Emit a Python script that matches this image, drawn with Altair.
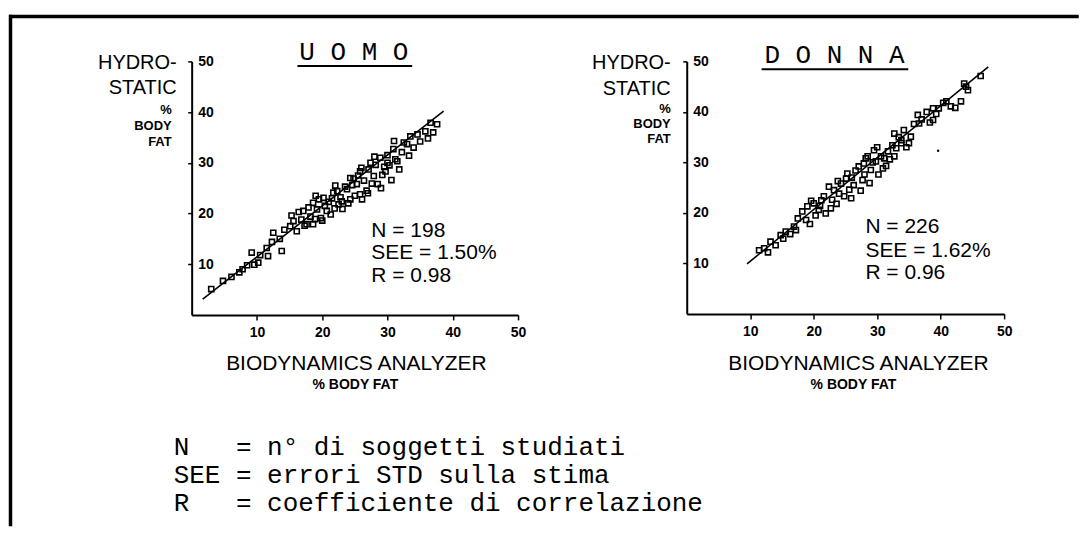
import altair as alt
import pandas as pd

SANS = "Liberation Sans"
MONO = "Liberation Mono"

# ---------------- data ----------------
ticks = [10, 20, 30, 40, 50]

men_x = [3.0, 4.8, 6.1, 7.3, 7.8, 8.5, 9.2, 9.6, 10.2, 10.5, 11.5, 11.7, 12.3, 12.5, 13.5,
         13.8, 14.2, 15.1, 15.3, 15.6, 16.1, 16.4, 16.8, 17.1, 17.3, 17.6, 17.9, 18.2, 18.6,
         18.6, 18.9, 19.0, 19.2, 19.5, 19.8, 20.0, 20.2, 20.4, 20.7, 21.0, 21.3, 21.5, 21.7,
         21.9, 22.0, 22.3, 22.5, 22.8, 23.0, 23.1, 23.5, 23.8, 24.0, 24.3, 24.3, 24.6, 24.8,
         25.0, 25.3, 25.5, 25.8, 25.8, 26.0, 26.1, 26.4, 26.8, 27.0, 27.1, 27.4, 27.6, 27.9,
         28.0, 28.2, 28.5, 28.9, 29.0, 29.2, 29.5, 29.7, 30.0, 30.0, 30.3, 30.6, 30.9, 31.0,
         31.2, 31.5, 31.8, 32.2, 32.5, 33.0, 33.3, 33.5, 34.0, 34.6, 35.0, 35.8, 36.2, 36.6,
         37.0, 37.6]
men_y = [5.1, 6.7, 7.5, 8.4, 9.0, 9.8, 12.3, 9.9, 10.3, 11.8, 13.2, 11.6, 14.4, 16.2, 15.0,
         12.6, 16.8, 17.5, 19.6, 18.5, 16.5, 20.3, 18.8, 20.5, 17.6, 17.9, 21.2, 19.4, 22.1,
         17.9, 18.9, 23.5, 20.8, 22.8, 19.1, 18.6, 23.1, 21.5, 20.5, 22.3, 19.8, 23.0, 24.1,
         21.0, 25.5, 24.4, 21.8, 23.2, 22.4, 20.9, 25.3, 24.8, 22.0, 22.8, 27.0, 25.6, 26.9,
         23.5, 25.8, 27.5, 23.8, 28.3, 29.0, 22.8, 26.5, 24.5, 24.0, 28.7, 30.0, 25.9, 27.4,
         31.2, 29.6, 25.8, 31.0, 25.0, 27.6, 29.2, 28.3, 31.5, 30.0, 29.5, 26.6, 32.7, 34.3,
         30.7, 30.3, 28.7, 32.1, 34.0, 33.7, 31.4, 35.2, 33.0, 35.6, 34.2, 36.2, 34.8, 37.9,
         36.0, 37.6]
men_fit_x = [1.7, 38.6]
men_fit_y = [3.1, 40.2]

women_x = [11.4, 12.2, 12.8, 13.2, 14.0, 14.8, 15.2, 15.6, 16.3, 16.9, 17.2, 17.5, 18.2, 18.8,
           19.0, 19.4, 19.6, 20.0, 20.3, 20.8, 21.0, 21.2, 21.6, 21.9, 22.4, 22.7, 22.9, 23.2,
           23.6, 23.8, 24.0, 24.3, 24.8, 25.1, 25.3, 25.6, 25.9, 26.0, 26.3, 26.6, 27.1, 27.4,
           27.7, 27.9, 28.0, 28.2, 28.5, 28.8, 29.0, 29.3, 29.5, 29.8, 30.0, 30.2, 30.6, 30.9,
           31.1, 31.4, 31.7, 32.0, 32.4, 32.7, 32.7, 33.0, 33.4, 33.8, 33.8, 34.2, 34.6, 35.0,
           35.3, 35.8, 36.4, 36.6, 37.0, 37.8, 38.3, 38.8, 38.8, 39.3, 39.7, 40.4, 40.9, 41.6,
           42.3, 43.2, 43.7, 44.0, 44.3, 46.3]
women_y = [12.6, 13.0, 12.2, 14.3, 13.6, 15.6, 14.9, 16.3, 15.8, 17.3, 16.6, 18.9, 20.3, 18.6,
           21.3, 17.8, 22.4, 21.9, 19.5, 20.6, 21.4, 22.5, 23.3, 19.9, 25.2, 20.9, 22.6, 24.5,
           21.8, 26.3, 23.8, 25.8, 23.3, 26.8, 27.8, 24.6, 22.9, 27.0, 25.5, 28.4, 29.2, 24.4,
           26.5, 29.8, 27.6, 30.8, 31.2, 25.9, 28.5, 30.0, 32.4, 30.2, 33.0, 27.6, 31.2, 28.8,
           30.8, 29.3, 32.2, 30.6, 33.4, 35.7, 31.2, 32.8, 35.0, 34.4, 33.8, 36.4, 33.0, 33.8,
           35.1, 37.6, 39.4, 37.7, 38.5, 40.0, 37.9, 40.7, 38.4, 39.6, 40.7, 41.8, 42.1, 41.1,
           40.8, 42.1, 45.6, 45.0, 44.3, 47.1]
women_fit_x = [9.5, 47.5]
women_fit_y = [9.9, 48.9]
women_speck_x = [39.6]
women_speck_y = [32.3]

men_title = "U O M O"
women_title = "D O N N A"
men_stats = ["N = 198", "SEE = 1.50%", "R = 0.98"]
women_stats = ["N = 226", "SEE = 1.62%", "R = 0.96"]
y_title_big = ["HYDRO-", "STATIC"]
y_title_small = ["%", "BODY", "FAT"]
x_title_big = "BIODYNAMICS ANALYZER"
x_title_small = "% BODY FAT"
legend_lines = ["N   = n° di soggetti studiati",
                "SEE = errori STD sulla stima",
                "R   = coefficiente di correlazione"]

one = pd.DataFrame({"_": [0]})


def txt(s, x, y, size, font=SANS, align="left", weight="normal"):
    return alt.Chart(one).mark_text(
        text=s, align=align, baseline="middle", font=font, fontSize=size,
        fontWeight=weight, color="black"
    ).encode(x=alt.value(x), y=alt.value(y))


def hrule(x1, x2, y, w):
    return alt.Chart(one).mark_rule(color="black", strokeWidth=w, strokeCap="square").encode(
        x=alt.value(x1), x2=alt.value(x2), y=alt.value(y))


def vrule(x, y1, y2, w):
    return alt.Chart(one).mark_rule(color="black", strokeWidth=w, strokeCap="square").encode(
        x=alt.value(x), y=alt.value(y1), y2=alt.value(y2))


def panel(px, py, fx, fy, width, height, title, tpos, upos, ytx, stats, spos, xtpos, extra=None):
    xs = alt.Scale(domain=[0, 50], nice=False)
    ys = alt.Scale(domain=[0, 50], nice=False)
    xax = alt.Axis(values=ticks, title=None, grid=False, tickSize=5, labelPadding=6,
                   labelFlush=False, labelOverlap=False, domainWidth=2, domainColor="black",
                   tickWidth=1.5, tickColor="black", labelFont=SANS, labelFontSize=14,
                   labelFontWeight="bold", labelColor="black")
    yax = alt.Axis(values=ticks, title=None, grid=False, tickSize=4, labelAlign="left",
                   labelPadding=-10, labelBaseline="middle", labelFlush=False,
                   labelOverlap=False, domainWidth=2, domainColor="black", tickWidth=1.5,
                   tickColor="black", labelFont=SANS, labelFontSize=14,
                   labelFontWeight="bold", labelColor="black")
    pts = alt.Chart(pd.DataFrame({"x": px, "y": py})).mark_point(
        shape="square", filled=False, size=26, strokeWidth=1.6, color="black", opacity=1
    ).encode(x=alt.X("x:Q", scale=xs, axis=xax), y=alt.Y("y:Q", scale=ys, axis=yax))
    fit = alt.Chart(pd.DataFrame({"x": fx, "y": fy})).mark_line(
        color="black", strokeWidth=1.6
    ).encode(x="x:Q", y="y:Q")
    layers = [pts, fit]
    if extra is not None:
        layers.append(extra)
    layers.append(txt(title, tpos[0], tpos[1], 26, font=MONO, align="center"))
    layers.append(hrule(upos[0], upos[1], upos[2], 2))
    bx, sx, ys_big, ys_small = ytx
    for s, yy in zip(y_title_big, ys_big):
        layers.append(txt(s, bx, yy, 20, align="right"))
    for s, yy in zip(y_title_small, ys_small):
        layers.append(txt(s, sx, yy, 13, align="right", weight="bold"))
    for s, yy in zip(stats, spos[1]):
        layers.append(txt(s, spos[0], yy, 21))
    layers.append(txt(x_title_big, xtpos[0], xtpos[1], 21, align="center"))
    layers.append(txt(x_title_small, xtpos[2], xtpos[3], 14, align="center", weight="bold"))
    return layers, width, height


left_layers, lw, lh = panel(
    men_x, men_y, men_fit_x, men_fit_y, 327, 254,
    men_title, (162.5, -9), (107, 220, 4.5),
    (-15, -20, [2, 27], [49, 65, 81]),
    men_stats, (180, [170, 192, 215]),
    (165, 303, 164, 324))

# frame and legend (annotation, in pixels relative to the left plot)
left_layers.append(hrule(-181, 887, -45, 3.5))
left_layers.append(vrule(-181.5, -45, 464, 3.5))
for s, yy in zip(legend_lines, [386, 414, 442]):
    left_layers.append(txt(s.replace(" ", "\u00a0"), -18, yy, 26, font=MONO))

speck = alt.Chart(pd.DataFrame({"x": women_speck_x, "y": women_speck_y})).mark_point(
    shape="circle", filled=True, size=6, color="black", opacity=1
).encode(x="x:Q", y="y:Q")

right_layers, rw, rh = panel(
    women_x, women_y, women_fit_x, women_fit_y, 318, 253,
    women_title, (148, -6.5), (76, 221, 8),
    (-16, -16, [1.5, 27.5], [47.5, 62.5, 77.5]),
    women_stats, (179, [165.5, 189.5, 212.5]),
    (172, 303, 167, 324), extra=speck)

left = alt.layer(*left_layers).properties(width=lw, height=lh)
right = alt.layer(*right_layers).properties(width=rw, height=rh)

chart = alt.hconcat(left, right, spacing=169, bounds="flush").properties(
    padding={"left": 0, "top": 5, "right": 0, "bottom": 0},
    background="white",
).configure_view(stroke=None)

chart.save("out.html", embed_options={"renderer": "svg", "actions": False})
